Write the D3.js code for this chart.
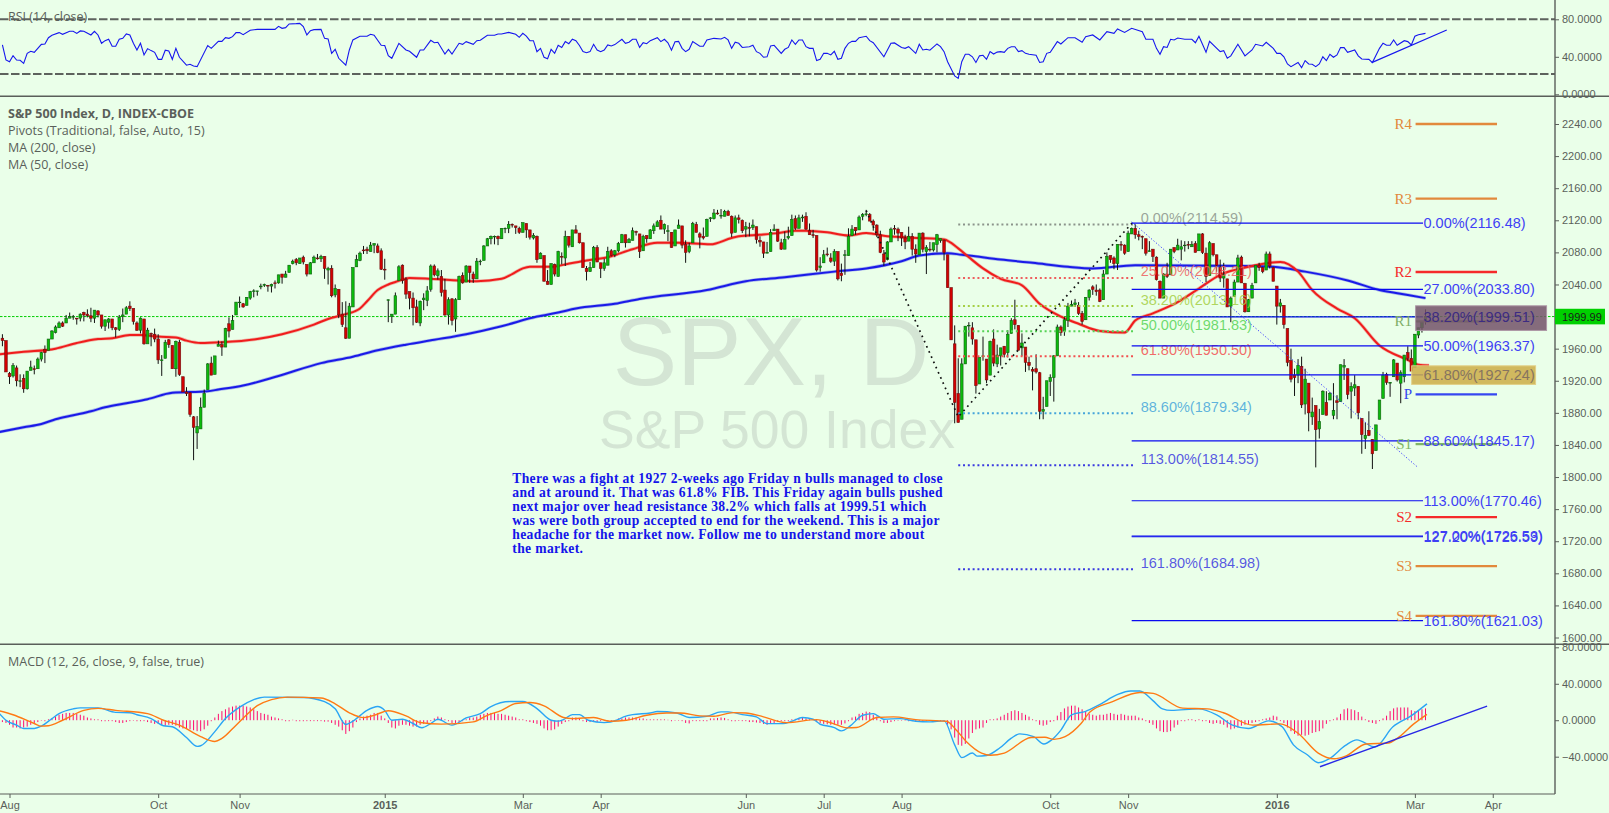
<!DOCTYPE html>
<html><head><meta charset="utf-8">
<script src="https://cdn.jsdelivr.net/npm/d3@7/dist/d3.min.js"></script>
<style>html,body{margin:0;padding:0;background:#eaffe9;overflow:hidden}svg{display:block}</style>
</head><body><svg id="c" width="1609" height="813"></svg>
<script>
const firstIndex=-2;
const closes=[1970,1931,
1925,1939,1920,1920,1910,1932,1937,1934,1947,1955,1955,1972,1982,1987,1992,1988,1998,2000,2000,1997,2003,
2002,2001,1998,2008,2002,1988,1996,1997,1986,1984,1999,2002,2011,2010,1994,1983,1998,1966,1983,1978,1972,
1946,1946,1968,1965,1935,1969,1928,1906,1904,1878,1862,1863,1887,1904,1941,1927,1951,1965,1962,1985,1982,1995,2018,
2018,2012,2024,2031,2032,2032,2038,2040,2038,2040,2041,2052,2049,2053,2064,2069,2067,2073,2068,
2053,2067,2074,2072,2075,2060,2060,2026,2035,2002,1990,1973,2013,2061,2071,2079,2082,2082,2089,2091,2080,2059,
2058,2021,2003,2026,2062,2045,2028,2023,2011,1993,2019,2023,2032,2063,2052,2057,2030,2002,2021,1995,
2021,2050,2042,2063,2055,2047,2069,2069,2088,2097,2100,2100,2097,2110,2110,2115,2114,2111,2105,
2117,2108,2099,2101,2071,2079,2044,2040,2066,2053,2081,2074,2100,2089,2108,2104,2092,2061,2056,2061,2086,2068,
2060,2067,2081,2076,2082,2091,2102,2092,2096,2107,2105,2081,2100,2097,2108,2113,2118,2109,2115,2107,2086,
2108,2114,2089,2080,2088,2116,2105,2099,2098,2121,2123,2129,2128,2126,2131,2126,2104,2123,2121,2107,
2112,2110,2114,2096,2093,2079,2080,2105,2109,2094,2084,2096,2100,2121,2110,2123,2124,2109,2102,2101,2058,2063,
2077,2077,2069,2081,2047,2051,2077,2100,2109,2107,2124,2127,2128,2119,2114,2102,2080,2068,2093,2109,2109,2104,
2098,2093,2100,2084,2078,2104,2084,2086,2083,2092,2102,2097,2080,2036,1971,1893,1868,1941,1988,1989,1972,
1914,1949,1951,1921,1969,1942,1952,1961,1953,1978,1995,1990,1958,1967,1943,1939,1932,1931,1882,1884,1920,
1924,1951,1987,1980,1996,2013,2015,2017,2004,1994,2024,2033,2034,2031,2019,2053,2075,2071,2066,2090,2089,2079,
2104,2110,2102,2100,2099,2079,2082,2075,2046,2023,2053,2050,2084,2081,2089,2087,2089,2089,2090,2080,
2103,2080,2050,2092,2077,2064,2048,2052,2012,2023,2043,2073,2042,2006,2021,2039,2064,2061,2056,2078,2063,2044,
2013,2017,1990,1943,1922,1924,1939,1890,1922,1880,1881,1859,1869,1907,1877,1904,1883,1893,1940,
1939,1903,1913,1915,1880,1853,1852,1852,1829,1865,1896,1927,1918,1918,1946,1921,1930,1952,1948,1932,
1978,1986,1993,1999.99];
const opens=[1973,1970,
1929,1926,1936,1920,1923,1910,1933,1935,1935,1947,1959,1958,1972,1980,1986,1992,1992,1998,2000,1998,1998,
2005,2003,2001,1998,2007,2002,1988,1993,1997,1986,1984,2000,2003,2013,2010,1992,1983,1997,1966,1979,1978,
1972,1945,1948,1971,1964,1935,1968,1925,1906,1905,1875,1855,1860,1887,1909,1942,1928,1963,1965,1962,1991,1984,2002,
2018,2016,2014,2023,2032,2032,2037,2039,2039,2038,2042,2042,2053,2049,2055,2066,2071,2066,2074,
2065,2053,2067,2073,2072,2075,2058,2060,2027,2034,2003,1986,1973,2012,2062,2070,2083,2084,2081,2089,2088,2082,
2059,2021,2000,2003,2045,2064,2046,2031,2023,2012,1992,2021,2020,2034,2063,2051,2050,2033,2002,2022,
1997,2021,2051,2043,2063,2053,2047,2069,2070,2088,2097,2100,2100,2097,2110,2110,2115,2113,2110,
2105,2116,2108,2098,2100,2072,2076,2044,2040,2065,2050,2075,2073,2100,2087,2108,2104,2092,2060,2056,2061,2086,
2067,2060,2064,2082,2077,2082,2092,2102,2092,2095,2106,2103,2082,2101,2097,2107,2112,2120,2109,2107,2105,
2088,2110,2113,2090,2081,2092,2115,2103,2100,2100,2122,2122,2129,2126,2125,2131,2125,2105,2123,2120,
2109,2111,2111,2112,2095,2093,2079,2081,2107,2109,2092,2084,2098,2101,2122,2110,2123,2125,2107,2102,2101,2061,
2067,2078,2073,2069,2081,2054,2077,2076,2101,2111,2108,2125,2127,2127,2119,2114,2102,2078,2071,2093,2110,2109,
2105,2098,2094,2100,2084,2077,2104,2081,2084,2083,2090,2095,2095,2077,2036,1966,1904,1872,1941,1989,1986,
1971,1916,1951,1947,1927,1972,1941,1951,1963,1955,1979,1996,1989,1961,1962,1943,1934,1935,1930,1882,1888,
1919,1924,1951,1987,1982,1995,2013,2015,2014,2004,1996,2024,2037,2033,2033,2021,2053,2076,2073,2066,2090,2089,
2081,2103,2110,2102,2100,2097,2081,2084,2074,2044,2023,2053,2052,2086,2083,2084,2089,2090,2087,2091,
2082,2103,2079,2051,2091,2077,2061,2048,2047,2013,2025,2043,2074,2041,2006,2023,2042,2064,2061,2058,2078,2061,
2038,2013,2014,1985,1945,1927,1927,1938,1891,1917,1875,1889,1860,1878,1893,1896,1877,1895,1894,
1937,1935,1907,1911,1913,1873,1848,1858,1847,1833,1872,1898,1928,1917,1925,1942,1917,1925,1955,1948,
1937,1977,1986,1994];
const highs=[1978,1970,
1931,1942,1939,1928,1928,1932,1945,1939,1949,1956,1964,1971,1983,1989,1994,1994,2002,2005,2002,1998,2004,
2006,2009,2011,2008,2008,2002,1996,1998,1997,1987,2002,2010,2013,2019,2010,1994,1999,1997,1986,1980,1985,
1978,1952,1971,1972,1964,1970,1971,1925,1912,1906,1876,1876,1899,1909,1942,1950,1950,1970,1969,1986,1999,2002,2018,
2025,2017,2024,2032,2034,2032,2041,2041,2039,2041,2045,2052,2053,2057,2064,2071,2073,2073,2076,
2065,2068,2076,2078,2077,2075,2062,2064,2040,2034,2018,2019,2017,2061,2077,2081,2088,2087,2093,2091,2091,2085,
2072,2021,2003,2030,2064,2065,2049,2031,2030,2021,2020,2029,2038,2065,2065,2060,2058,2047,2024,2023,
2023,2051,2055,2064,2063,2056,2073,2071,2089,2098,2101,2101,2101,2110,2111,2119,2116,2113,2112,
2117,2116,2108,2104,2101,2080,2076,2058,2066,2066,2082,2080,2107,2100,2108,2114,2098,2092,2063,2068,2088,2089,
2067,2072,2087,2084,2083,2093,2103,2102,2098,2111,2107,2103,2102,2101,2109,2116,2120,2126,2116,2114,2105,
2108,2121,2113,2095,2092,2118,2118,2105,2111,2122,2124,2134,2133,2134,2133,2133,2126,2126,2127,2121,
2118,2117,2121,2112,2100,2093,2093,2109,2115,2109,2097,2106,2112,2127,2126,2127,2127,2130,2116,2108,2101,2074,
2083,2086,2079,2084,2081,2066,2083,2110,2114,2111,2126,2129,2133,2129,2121,2115,2107,2083,2094,2111,2114,2111,
2105,2102,2112,2104,2090,2104,2105,2089,2093,2092,2103,2097,2096,2077,2036,1989,1948,1948,1988,1993,1993,
1971,1949,1975,1947,1970,1984,1965,1961,1963,1983,1998,2021,1989,1979,1962,1950,1937,1953,1931,1900,1920,
1928,1952,1990,1989,1999,2017,2020,2022,2018,2007,2024,2034,2039,2040,2035,2058,2080,2076,2075,2090,2094,2090,
2107,2111,2115,2107,2101,2097,2094,2084,2075,2045,2054,2067,2084,2086,2097,2095,2094,2094,2094,2094,
2103,2104,2086,2094,2091,2077,2071,2067,2047,2025,2046,2077,2076,2042,2022,2042,2064,2067,2062,2081,2081,2062,
2038,2022,2014,1985,1960,1935,1947,1950,1935,1917,1899,1889,1885,1908,1907,1906,1917,1902,1940,
1947,1935,1918,1927,1913,1873,1868,1882,1847,1865,1896,1931,1930,1918,1947,1942,1933,1952,1963,1959,
1978,1986,1993,2009];
const lows=[1963,1931,
1916,1924,1913,1912,1905,1909,1933,1928,1935,1944,1942,1958,1972,1979,1986,1987,1992,1998,1996,1990,1994,
1994,1999,1993,1992,1999,1985,1982,1985,1983,1974,1982,1993,2004,2007,1990,1982,1979,1965,1968,1963,1968,
1941,1926,1948,1961,1935,1925,1926,1906,1901,1875,1821,1835,1860,1887,1909,1927,1928,1963,1951,1962,1974,1984,2002,
2011,2011,2014,2021,2024,2026,2034,2037,2031,2030,2035,2041,2041,2049,2055,2065,2064,2066,2065,
2050,2053,2067,2071,2068,2047,2040,2024,2024,1998,1987,1972,1973,2012,2062,2069,2078,2078,2081,2079,2079,2058,
2046,1993,1992,2003,2045,2041,2022,2009,1989,1992,1988,2008,2013,2031,2050,2046,2025,2001,1990,1989,
1981,2021,2041,2043,2042,2042,2047,2064,2070,2088,2090,2090,2089,2097,2104,2104,2111,2103,2103,
2105,2098,2096,2096,2067,2072,2044,2040,2040,2050,2050,2065,2063,2086,2087,2104,2091,2061,2045,2056,2061,2068,
2048,2057,2064,2075,2074,2080,2092,2086,2092,2095,2101,2073,2082,2092,2097,2103,2112,2109,2103,2094,2086,
2088,2110,2085,2067,2079,2092,2105,2085,2096,2100,2118,2121,2127,2122,2125,2126,2099,2105,2116,2104,
2099,2100,2108,2091,2087,2073,2079,2081,2107,2093,2083,2084,2096,2101,2108,2110,2118,2108,2102,2098,2056,2056,
2067,2075,2067,2063,2045,2044,2052,2076,2101,2102,2108,2120,2125,2119,2107,2099,2079,2063,2070,2093,2102,2094,
2088,2084,2094,2076,2067,2077,2080,2053,2081,2081,2080,2092,2070,2036,1971,1867,1868,1872,1941,1975,1965,
1904,1916,1945,1917,1927,1938,1937,1939,1949,1949,1979,1984,1958,1951,1931,1933,1908,1929,1872,1872,1888,
1901,1894,1951,1976,1976,1987,2013,2012,2002,1990,1996,2020,2027,2026,2018,2021,2053,2067,2059,2058,2082,2077,
2081,2103,2097,2095,2084,2076,2081,2068,2045,2023,2023,2048,2052,2079,2083,2070,2081,2084,2087,2080,
2082,2078,2043,2051,2075,2056,2043,2036,2012,1993,2025,2043,2042,2005,2006,2023,2042,2057,2054,2058,2060,2044,
1990,2005,1985,1938,1918,1901,1917,1886,1878,1857,1865,1812,1848,1878,1877,1896,1872,1872,1894,
1921,1897,1873,1901,1872,1829,1835,1851,1810,1833,1872,1898,1915,1900,1925,1919,1892,1918,1945,1932,
1937,1973,1980,1990];
const ma50Index=[-3,4,13,19,25,29,34,37,42,47,50,54,60,70,77,86,90,95,99,101,104,107,109,113,119,127,132,139,142,145,147,153,157,163,169,176,183,189,198,204,206,212,217,222,225,231,237,242,248,257,264,268,271,275,280,286,291,297,302,308,315,318,323,330,336,342,350,359,364,368,375,380,387,395,398,401];
const ma50=[1953,1956,1960,1967,1972,1973,1977,1977,1975,1974,1970,1967,1968,1972,1978,1990,1997,2003,2010,2019,2033,2040,2043,2048,2047,2045,2044,2047,2053,2060,2062,2062,2065,2070,2074,2084,2092,2092,2090,2098,2100,2102,2104,2107,2107,2105,2101,2104,2100,2098,2096,2085,2074,2060,2047,2039,2016,2000,1991,1982,1980,1995,2004,2018,2035,2052,2062,2068,2056,2033,2010,1998,1964,1946,1940,1939];
const ma200Index=[-3,4,9,13,18,23,27,33,39,46,56,59,66,76,88,97,104,112,120,129,139,149,155,160,171,178,197,208,219,233,242,252,257,265,269,271,280,289,299,306,318,350,357,366,378,387,395,400];
const ma200=[1856,1862,1866,1872,1877,1882,1887,1892,1897,1905,1907,1909,1914,1926,1942,1950,1958,1965,1971,1978,1988,2000,2005,2010,2016,2022,2033,2044,2049,2056,2060,2069,2076,2079,2077,2076,2071,2067,2062,2060,2064,2063,2062,2056,2045,2033,2027,2023];
const rsiIndex=[-2,-1,0,1,2,3,4,5,6,7,9,10,11,12,14,15,17,18,19,20,21,23,24,25,26,27,28,29,30,31,32,33,34,35,36,37,38,39,40,41,42,43,44,45,46,47,48,50,51,52,53,56,57,59,60,61,62,63,64,65,66,68,70,75,76,77,78,79,81,82,83,84,85,86,88,89,90,91,92,93,95,96,97,99,101,102,103,105,106,107,108,110,112,113,115,116,117,119,120,121,123,124,125,127,128,129,131,132,133,135,137,138,
139,141,143,144,145,146,147,148,149,150,151,152,153,154,155,156,157,158,159,160,161,162,163,164,165,166,167,168,169,170,171,173,174,175,176,177,178,179,180,181,183,184,185,186,187,188,189,190,191,192,193,195,196,197,199,201,202,203,204,205,206,207,209,210,211,212,213,214,215,216,218,219,220,221,222,223,224,225,226,227,228,229,230,231,232,233,234,235,236,237,238,239,240,242,243,244,247,249,250,252,253,254,256,257,258,259,260,262,263,264,265,267,268,269,270,271,272,273,274,275,276,277,278,279,
280,281,282,283,284,285,286,287,288,290,291,292,293,294,296,297,299,301,303,304,306,308,310,312,313,315,317,320,321,323,324,325,326,327,328,329,330,332,334,335,336,338,339,342,343,344,345,347,349,351,352,354,355,357,358,359,360,361,362,364,365,366,367,368,369,370,371,372,373,374,375,376,377,378,380,381,382,384,385,387,388,389,390,391,392,394,395,396,397,398,400];
const rsi=[52.6,36.6,34.8,41.2,36.6,36.3,33,43.7,45.9,44.8,53.3,53.7,60.4,63,65.8,64,67.2,67.2,65,67.6,67.2,63.3,67.2,63.3,54.4,57.2,58.7,51.2,51.2,58.7,59.7,64.4,63.3,54.4,47.3,54.4,42,48.7,46.6,44.8,37.3,37.3,47,46.2,37.3,49,39.5,31,32,30.2,29.5,52,49,56.5,56.5,60.4,59.7,61.5,65.8,65.8,63.6,68.3,69.3,69.3,72.5,70.4,71.1,75,75.4,75.7,72.2,63.3,67.9,69,69.3,59.7,59,43.7,48,38.4,31,47.3,58,61.9,61.9,64,63,52.3,52,41.2,38.4,54.4,47.3,45.9,39.5,47.3,47.3,57.6,55,55.5,43,48,43,54.4,53.3,56.2,53.3,57.2,57.6,63,63,64.4,
64.4,66,64,60.8,65,62,57.2,57.2,45.5,49,39.5,38,48,43.7,52.3,50,56.2,54,58.7,57.2,52,45.5,44.4,45.5,53.3,47.3,45.5,47.3,52.6,51.6,53,58.7,54.4,55.5,58.7,58.7,50,55,54,57.2,60.4,56.2,58.7,55,47,56,56.5,49,45.5,48,56.2,51.2,51.2,58,59.7,59,60.8,58,49,55.5,54.4,50,50.8,52.3,45.5,43.7,39.5,40,51.6,52.3,43.7,48,50,58,53.3,58,58,50.8,49,49,36,37.3,43.7,43.7,42,45.9,37.3,38.4,49,54.4,56.5,56.5,60.4,61.9,57.2,55,40,54.4,54.8,50,49,50.8,43.7,53.3,47.3,48,47,53.7,50.8,45.5,34.8,19.6,17,34.8,42.7,42.7,40,34,41,41.6,37.3,45.5,43,45,
45.5,44.8,49,50.8,50.8,45.5,46.6,43.7,42.7,41.6,34,34.8,43.7,44.8,56.2,53.7,60.4,60.4,55.5,61.5,63.3,58,66.8,65,69.7,66,70.4,66.8,58.7,58.7,49,42.7,50.8,50,58.7,58,60,58.7,58.7,55,62,44.8,56.5,45.5,46.6,38.4,41,53.3,41,47.3,53.3,51.6,55.5,49,43.7,43.7,40,32.4,29.5,34,28.4,36,32.4,32,29.5,32.4,40,36,42.7,39.5,42,49.8,49.8,44.8,47.3,41,37.7,37.3,33.8,49,54.4,52.3,52.3,58,52.3,57.2,56.2,52.6,62,63.6,65];
const rsiBands=[80,21.6];
const rsiTrendIndex=[384.8,406],rsiTrend=[33.8,68.6];
const macdIndex=[-3,-1,2,4,7,9,12,14,18,20,25,30,34,36,40,43.5,46,50,53,54,58,61,65,69,72,83,89,92,95,97,101,104,106,108,111,114,116.5,119,121,125,129,133,136,141.5,145,149,153,155,156.5,159,161,163.5,168,171.5,173.5,176,181,183,188.5,192,197,201,203,207,211,214,218.5,221,224,227,229,233,235,237.5,241,244,247,251.5,256,260,264,267,269,272,273.3,276,279.7,283,285.4,289.3,292.2,294.4,297,300,304,307.8,312.9,316.7,319.3,323,325.7,328.2,335.9,341,345.5,350,355.7,359.5,362.7,366.5,369.7,372.9,377.4,380.6,385.7,390.8,395.9,400.4];
const macd=[7.9,0,-5.4,-9,-9,-6.5,1.8,7.2,12.5,13.6,13.6,8.6,8.2,6,1.8,-6,-7.2,-19,-28.7,-28,-12.5,1.8,14.3,22.6,25.4,25,20.4,12.5,-4.7,-1,10.8,15,10.8,0,1,-3.6,-8.2,-3.6,1,-5.4,2.5,7.2,15,20.5,20.5,12.8,0,-1,0.7,6.2,6.2,0,-2.6,0,3.7,6.2,8,9.5,8,3,4.4,9.2,9.2,6.2,3.7,-3.7,-3.7,-1.1,3,1.1,-4.4,-8,-11.7,-6.2,5.5,7.3,1.1,1.8,-1.1,-1.8,-0.7,-27,-41,-36,-39.4,-38.7,-30.5,-19.7,-15,-18,-26,-21.5,-10.8,6,9.7,16.8,28,32,32,21.5,12.5,10.8,12.5,6,-5.4,-9,-0.7,-7.2,-27,-37.6,-46.6,-42,-27.6,-21.5,-29.4,-7.2,4.7,18];
const signalIndex=[-3,1,7,9,11,15,21,25,30,39,43.5,48,54,58,60,64,70,74,78.5,88,92,96,100,103,107,112,116,122,131,135,139,143,147,151,156.5,159,165,169.6,174.3,180,185.6,189.4,195,199,204.5,208,213,219.5,228,232.7,236.5,239.3,245,249.7,256,264.7,267.5,270.4,274.6,277.1,281,288.6,292.5,295,298.2,302.7,305.2,311.6,319.3,323.1,331.4,338.4,342.9,351.2,358.9,364,369.7,374.2,377.4,383.2,389.5,392.1,396.6,400.4];
const signal=[10.4,6,-3.6,-6.5,-6,0,10.8,13,10.8,7.2,0,-5.4,-18,-23.3,-20,-5.4,16,22.6,25.4,24.4,18,8.2,2.9,5.4,10.4,4.7,-2.5,-4.3,-1.8,5.4,10.8,18.3,19.4,15.8,3,1.8,3,-1.1,0,5.5,8,8,4.8,4.4,8.4,8,3.7,-2.6,0.7,-3.7,-8.4,-8,3,3.7,0.7,-1.1,-11,-23.8,-36,-38.4,-36,-19,-18.6,-21,-18,-3.6,9,20.4,30.5,29.4,13.3,12.5,8.2,-5.4,-4,-14.3,-36,-42.3,-39.4,-26,-25,-19.7,-4.3,6.5];
const histogram=[-2,-3,-5,-8,-8,-9,-8,-7,-5,-3,
-2,-0.5,0,1,2,4,6,7,8,8,
8,7,6,5,3,2,1,1,0,0,
-1,-1,-2,-3,-3,-2,-1,-0.5,0,0,
-1,-2,-3,-4,-4,-5,-6,-5,-5,-6,
-8,-9,-9,-10,-11,-12,-12,-10,-6,0,
3,7,10,12,14,15,16,16,16,15,
14,12,10,8,7,6,4,3,2,1,
0,0,0.5,0,0,0,-1,-1,-1,-1,
-1,-1.5,-1.5,-3,-5,-7,-11,-15,-12,-8,
-2,2,4,5,6,8,8,5,2,-3,
-8,-9,-6,-5,-5,-6,-7,-7,-5,-4,
-4,-1,2,4,3,1,0,-3,-3,-2,
0,1,3,3,4,6,7,8,8,8,
7,7,6,5,4,3,1,1,0,-2,
-3,-4,-6,-9,-11,-11,-10,-7,-4,-2,
0,3,3,2,0,-2,-2,-2,-2,-1,
-1,0,0,0,2,2,3,3,3,3,
2,2,1,1,1,1,1,1,0.5,0,
-0.5,-0.5,-1,-3,-3.5,-1,-1,-1,-1,0,
2,2,2.5,3,2.5,1,0,0,-0.7,-1,
-1,-2,-2,-2.5,-3,-4,-5,-4,-3,-2,
-1,-1,0,1,1.5,2,3,2,1,0.5,
-2,-3,-4,-4.5,-5,-5,-5,-5,-3.5,0,
3,4,7,8,9.5,9,6,4,0,-3,
-3,-2,-1,-0.5,-0.5,-0.5,0,-1,-1.5,-1,
-1,-1,-0.5,0,0,0,-1,-5,-10,-19,
-27,-28,-26,-20,-14,-10,-9,-8,-3,1,
1,2,4,6,8,10,11,10,8,6,
4,1,0,-5,-6,-5,-2,0,5,9,
13,15,16,16,14,12,10,7,6,5,
6,6,7,8,7,6,7,6,5,5,
5,3,2,0,-3,-5,-9,-12,-13,-13,
-12,-8,-5,-1,0,1,1,0,1,0,
-1,-3,-4,-3,-4,-5,-8,-10,-9,-8,
-6,-5,-4,-3,-2,0,1,2,3,5,
4,-1,-3,-8,-12,-15,-17,-16,-17,-16,
-14,-13,-12,-9,-4,0,1,3,7,12,
13,12,11,9,4,1,-2,-3,-4,-1,
2,5,10,13,14,14,14,14,11,10,
11,12,13];
const macdTrendIndex=[370.2,417.4],macdTrend=[-51,15.4];
const fibZigIndex=[242,268,317.4],fibZigPrice=[2132,1875,2118];
const fibFanIndex=[317,397.6],fibFanPrice=[2118,1813];
const fibLeftRange=[268,318];
const fibLeftNames=["0.00%","25.00%","38.20%","50.00%","61.80%","88.60%","113.00%","161.80%"];
const fibLeftPrices=[2114.59,2048.21,2013.16,1981.83,1950.50,1879.34,1814.55,1684.98];
const fibLeftColors=["#8b948b","#ee5f5f","#a5cf45","#56d356","#f25050","#45a5da","#3a3ae0","#3a3ae0"];
const fibRightRange=[317,399.3];
const fibRightNames=["0.00%","27.00%","38.20%","50.00%","61.80%","88.60%","113.00%","127.00%","127.20%","161.80%"];
const fibRightPrices=[2116.48,2033.80,1999.51,1963.37,1927.24,1845.17,1770.46,1726.53,1725.59,1621.03];
const pivotRange=[397.2,420.2];
const pivotNames=["R4","R3","R2","R1","P","S1","S2","S3","S4"];
const pivotPrices=[2240,2147,2055.5,1994,1903,1841,1750,1689,1627];
const pivotColors=["#e2893c","#e2893c","#f52a2a","#7fae66","#3647f0","#7fb565","#f52a2a","#e2893c","#e2893c"];
const boxPurple={i:[397.2,434.2],p:[2013.4,1982.7]};
const boxGold={i:[396.1,431.1],p:[1938.6,1915.4]};
const priceTicks=d3.range(1600,2241,40);
const rsiTicks=[0,40,80];
const macdTicks=[-40,0,40,80];
const timeTicks=[0,42,65,106,145,167,208,230,252,294,316,358,397,419];
const timeNames=["Aug","Oct","Nov","2015","Mar","Apr","Jun","Jul","Aug","Oct","Nov","2016","Mar","Apr"];
const lastClose=1999.99;
const legendMain=["S&P 500 Index, D, INDEX-CBOE","Pivots (Traditional, false, Auto, 15)","MA (200, close)","MA (50, close)"];
const noteLines=["There was a fight at 1927 2-weeks ago Friday n bulls managed to close","and at around it. That was 61.8% FIB. This Friday again bulls pushed","next major over head resistance 38.2% which falls at 1999.51 which","was were both group accepted to end for the weekend. This is a major","headache for the market now. Follow me to understand more about","the market."];

const W=1609,H=813,axisX=1555,paneA=96.3,paneB=644.3,paneC=794;
const x=d3.scaleLinear().domain([0,400]).range([9.5,1425.5]);
const yP=d3.scaleLinear().domain([1600,2240]).range([637.5,124]);
const yR=d3.scaleLinear().domain([0,80]).range([94.3,19.3]);
const yM=d3.scaleLinear().domain([-40,80]).range([756.7,647.3]);
const svg=d3.select("#c");
const sans="'Liberation Sans',Arial,sans-serif",ui="'Open Sans',sans-serif",serif="'Liberation Serif',serif";
const grey="#5a5f5a";
svg.append("rect").attr("width",W).attr("height",H).attr("fill","#eaffe9");
const defs=svg.append("defs");
defs.append("clipPath").attr("id","cp").append("rect").attr("x",0).attr("y",paneA).attr("width",axisX).attr("height",paneB-paneA);
const main=svg.append("g").attr("clip-path","url(#cp)");

// watermark
main.append("text").text("SPX, D").attr("x",771).attr("y",385).attr("text-anchor","middle").attr("font-family",sans).attr("font-size",96.6).attr("fill","#d4e5d4");
main.append("text").text("S&P 500 Index").attr("x",777).attr("y",448).attr("text-anchor","middle").attr("font-family",sans).attr("font-size",53.5).attr("fill","#d4e5d4");

// last price line
main.append("line").attr("x1",0).attr("x2",axisX).attr("y1",yP(lastClose)).attr("y2",yP(lastClose)).attr("stroke","#00cc00").attr("stroke-dasharray","2.5 1.5").attr("stroke-width",1);

// moving averages
const lineP=d3.line().x(d=>x(d[0])).y(d=>yP(d[1])).curve(d3.curveMonotoneX);
const ma200Pts=ma200.map((v,i)=>[ma200Index[i],v]),ma50Pts=ma50.map((v,i)=>[ma50Index[i],v]);
[[ma200Pts,"#1a1ae8"],[ma50Pts,"#f01c1c"]].forEach(([p,c])=>{
  main.append("path").attr("d",lineP(p)).attr("fill","none").attr("stroke",c).attr("stroke-width",3.4).attr("stroke-opacity",.3);
  main.append("path").attr("d",lineP(p)).attr("fill","none").attr("stroke",c).attr("stroke-width",2);
});

// candles
const bars=closes.map((c,i)=>({i:i+firstIndex,o:opens[i],h:highs[i],l:lows[i],c}));
const cg=main.append("g");
cg.selectAll("line").data(bars).join("line").attr("x1",d=>x(d.i)).attr("x2",d=>x(d.i)).attr("y1",d=>yP(d.h)).attr("y2",d=>yP(d.l)).attr("stroke","#111").attr("stroke-width",1);
cg.selectAll("rect").data(bars).join("rect")
  .attr("x",d=>x(d.i)-1.3).attr("width",2.6)
  .attr("y",d=>yP(Math.max(d.o,d.c))).attr("height",d=>Math.max(.6,Math.abs(yP(d.o)-yP(d.c))))
  .attr("fill",d=>d.c>=d.o?"#0bbb0b":"#d40000").attr("stroke",d=>d.c>=d.o?"#0f5f0f":"#6e1010").attr("stroke-width",.6);

// fib left (dotted)
const fl=main.append("g");
fibLeftPrices.forEach((p,i)=>{
  fl.append("line").attr("x1",x(fibLeftRange[0])).attr("x2",x(fibLeftRange[1])).attr("y1",yP(p)).attr("y2",yP(p))
    .attr("stroke",fibLeftColors[i]).attr("stroke-width",2).attr("stroke-dasharray","2 2.8");
  fl.append("text").text(fibLeftNames[i]+"("+p.toFixed(2)+")").attr("x",1140.7).attr("y",yP(p)-1.5)
    .attr("font-family",sans).attr("font-size",14.5).attr("fill",fibLeftColors[i]).attr("fill-opacity",.85);
});
// fib zigzag
main.append("path").attr("d",d3.line()(fibZigIndex.map((v,i)=>[x(v),yP(fibZigPrice[i])]))).attr("fill","none").attr("stroke","#111").attr("stroke-width",1.7).attr("stroke-dasharray","1.7 4");
main.append("path").attr("d",d3.line()(fibFanIndex.map((v,i)=>[x(v),yP(fibFanPrice[i])]))).attr("fill","none").attr("stroke","#3a3aff").attr("stroke-width",1).attr("stroke-dasharray","1.2 2");

// fib right (solid)
const fr=main.append("g");
fibRightPrices.forEach((p,i)=>{
  fr.append("line").attr("x1",x(fibRightRange[0])).attr("x2",x(fibRightRange[1])).attr("y1",yP(p)).attr("y2",yP(p)).attr("stroke","#0a0af0").attr("stroke-width",1.2);
});

// pivots
const pv=main.append("g");
pivotPrices.forEach((p,i)=>{
  pv.append("line").attr("x1",x(pivotRange[0])).attr("x2",x(pivotRange[1])).attr("y1",yP(p)).attr("y2",yP(p)).attr("stroke",pivotColors[i]).attr("stroke-width",2.4);
  pv.append("text").text(pivotNames[i]).attr("x",1412).attr("y",yP(p)+5).attr("text-anchor","end").attr("font-family",serif).attr("font-size",15).attr("fill",pivotColors[i]);
});
// boxes
function box(b,fill,stroke){main.append("rect").attr("x",x(b.i[0])).attr("width",x(b.i[1])-x(b.i[0])).attr("y",yP(b.p[0])).attr("height",yP(b.p[1])-yP(b.p[0])).attr("fill",fill).attr("fill-opacity",.86).attr("stroke",stroke).attr("stroke-width",1);}
fibRightPrices.forEach((p,i)=>{
  const inPurple=p<boxPurple.p[0]&&p>boxPurple.p[1],inGold=p<boxGold.p[0]&&p>boxGold.p[1];
  if(inPurple)box(boxPurple,"#75546a","#ad98a6");
  if(inGold)box(boxGold,"#cdae48","#e2d088");
  main.append("text").text(fibRightNames[i]+"("+p.toFixed(2)+")").attr("x",1423.5).attr("y",yP(p)+5)
    .attr("font-family",sans).attr("font-size",14.5)
    .attr("fill",inPurple?"#3c2b82":inGold?"#86745f":"#3f3ff5");
});

// note
noteLines.forEach((t,i)=>{
  main.append("text").text(t).attr("x",512.3).attr("y",483+14*i).attr("font-family",serif).attr("font-weight","bold").attr("font-size",13.6).attr("letter-spacing",.35).attr("fill","#1414ea");
});

// RSI pane
const rg=svg.append("g");
rsiBands.forEach(v=>rg.append("line").attr("x1",0).attr("x2",axisX).attr("y1",yR(v)).attr("y2",yR(v)).attr("stroke","#5d625d").attr("stroke-width",2).attr("stroke-dasharray","8.5 2.5"));
rg.append("path").attr("d",d3.line().x(d=>x(d[0])).y(d=>yR(d[1]))(rsi.map((v,i)=>[rsiIndex[i],v]))).attr("fill","none").attr("stroke","#1616ee").attr("stroke-width",1.1);
rg.append("path").attr("d",d3.line()(rsiTrendIndex.map((v,i)=>[x(v),yR(rsiTrend[i])]))).attr("fill","none").attr("stroke","#1616ee").attr("stroke-width",1.2);

// MACD pane
const mg=svg.append("g");
mg.selectAll("line").data(histogram.map((v,i)=>({i:i+firstIndex,v}))).join("line")
  .attr("x1",d=>x(d.i)).attr("x2",d=>x(d.i)).attr("y1",yM(0)).attr("y2",d=>d.v===0?yM(0)+1:yM(d.v))
  .attr("stroke","#ff0a6e").attr("stroke-width",1);
const lineM=d3.line().x(d=>x(d[0])).y(d=>yM(d[1])).curve(d3.curveMonotoneX);
mg.append("path").attr("d",lineM(macd.map((v,i)=>[macdIndex[i],v]))).attr("fill","none").attr("stroke","#2aa5f5").attr("stroke-width",1.4);
mg.append("path").attr("d",lineM(signal.map((v,i)=>[signalIndex[i],v]))).attr("fill","none").attr("stroke","#ff7a14").attr("stroke-width",1.4);
mg.append("path").attr("d",d3.line()(macdTrendIndex.map((v,i)=>[x(v),yM(macdTrend[i])]))).attr("fill","none").attr("stroke","#2828e6").attr("stroke-width",1.4);

// frame
[paneA,paneB,paneC].forEach(y=>svg.append("line").attr("x1",0).attr("x2",y===paneC?axisX:W).attr("y1",y).attr("y2",y).attr("stroke",grey).attr("stroke-width",y===paneC?1.2:1.4));
svg.append("line").attr("x1",axisX).attr("x2",axisX).attr("y1",0).attr("y2",paneC).attr("stroke",grey).attr("stroke-width",1.4);

// axes
function styleAxis(g){g.select(".domain").remove();g.selectAll("line").attr("stroke",grey);g.selectAll("text").attr("font-family",sans).attr("font-size",11).attr("fill",grey);}
svg.append("g").attr("transform",`translate(${axisX},0)`).call(d3.axisRight(yP).tickValues(priceTicks).tickFormat(d3.format(".2f")).tickSize(4).tickPadding(3)).call(styleAxis);
svg.append("g").attr("transform",`translate(${axisX},0)`).call(d3.axisRight(yR).tickValues(rsiTicks).tickFormat(d3.format(".4f")).tickSize(4).tickPadding(3)).call(styleAxis);
svg.append("g").attr("transform",`translate(${axisX},0)`).call(d3.axisRight(yM).tickValues(macdTicks).tickFormat(d3.format(".4f")).tickSize(4).tickPadding(3)).call(styleAxis);
const ax=svg.append("g").attr("transform",`translate(0,${paneC})`).call(d3.axisBottom(x).tickValues(timeTicks).tickFormat((d,i)=>timeNames[i]).tickSize(4).tickPadding(3)).call(styleAxis);
ax.selectAll("text").attr("font-weight",(d,i)=>/^20/.test(timeNames[i])?"bold":"normal");

// last price tag
svg.append("rect").attr("x",axisX).attr("y",yP(lastClose)-7.8).attr("width",50).attr("height",15.6).attr("fill","#00d000");
svg.append("text").text(lastClose.toFixed(2)).attr("x",1562).attr("y",yP(lastClose)+4).attr("font-family",sans).attr("font-size",11).attr("fill","#1a1a1a");

// legends
function leg(t,y,b){svg.append("text").text(t).attr("x",8).attr("y",y).attr("font-family",ui).attr("font-size",12.5).attr("font-weight",b?"bold":"normal").attr("fill",grey);}
leg("RSI (14, close)",21,false);
legendMain.forEach((t,i)=>leg(t,118+17*i,i===0));
leg("MACD (12, 26, close, 9, false, true)",666,false);
</script></body></html>
